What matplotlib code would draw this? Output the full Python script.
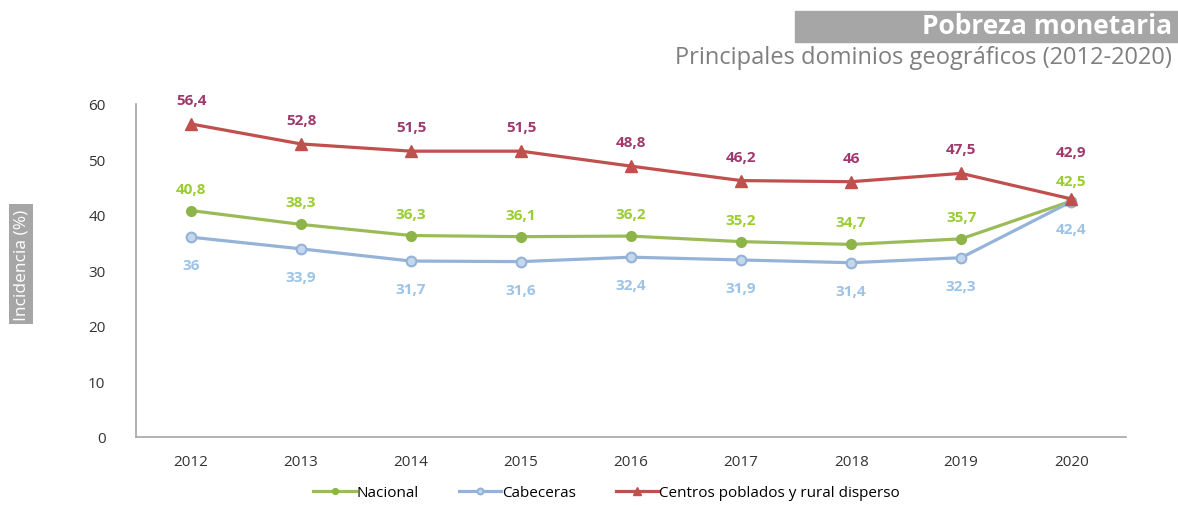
import matplotlib.pyplot as plt
from matplotlib.patches import Rectangle

plt.rcParams['font.family'] = ['Open Sans', 'DejaVu Sans']

years = ['2012', '2013', '2014', '2015', '2016', '2017', '2018', '2019', '2020']
nacional = [40.8, 38.3, 36.3, 36.1, 36.2, 35.2, 34.7, 35.7, 42.5]
cabeceras = [36.0, 33.9, 31.7, 31.6, 32.4, 31.9, 31.4, 32.3, 42.4]
centros = [56.4, 52.8, 51.5, 51.5, 48.8, 46.2, 46.0, 47.5, 42.9]


def fmt(v):
    s = f"{v:.1f}".replace('.', ',')
    return s[:-2] if s.endswith(',0') else s


fig = plt.figure(figsize=(11.78, 5.06), dpi=100)
ax = fig.add_axes([0.1155, 0.1344, 0.8405, 0.6581])
x = list(range(len(years)))

ax.plot(x, nacional, color='#9bbb59', lw=2.3, marker='o', ms=7,
        mfc='#8db449', mec='#8db449', label='Nacional', zorder=3)
ax.plot(x, cabeceras, color='#95b3d7', lw=2.3, marker='o', ms=7,
        mfc='#c5d7ec', mec='#95b3d7', mew=1.5, label='Cabeceras', zorder=3)
ax.plot(x, centros, color='#c0504d', lw=2.3, marker='^', ms=9,
        mfc='#c0504d', mec='#c0504d', label='Centros poblados y rural disperso', zorder=3)

# offsets in pixels from the point to the label centre
off_c = [24] * 8 + [47]
off_n = [22] * 8 + [20]
off_b = [28] * 8 + [27]
lbl = dict(ha='center', va='center', fontsize=11, fontweight='bold',
           textcoords='offset points')
for i in x:
    ax.annotate(fmt(centros[i]), (i, centros[i]), xytext=(0, off_c[i] * 0.72),
                color='#9e3a6e', **lbl)
    ax.annotate(fmt(nacional[i]), (i, nacional[i]), xytext=(0, off_n[i] * 0.72),
                color='#9acd32', **lbl)
    ax.annotate(fmt(cabeceras[i]), (i, cabeceras[i]), xytext=(0, -off_b[i] * 0.72),
                color='#9dc3e6', **lbl)

ax.set_xlim(-0.5, len(years) - 0.5)
ax.set_ylim(0, 60)
ax.set_yticks(range(0, 61, 10))
ax.set_xticks(x)
ax.set_xticklabels(years)
ax.tick_params(length=0, labelsize=11, colors='#333333', pad=12)
ax.tick_params(axis='y', pad=22)
for s in ['top', 'right']:
    ax.spines[s].set_visible(False)
for s in ['left', 'bottom']:
    ax.spines[s].set_color('#a6a6a6')
    ax.spines[s].set_linewidth(1.2)

fig.legend(loc='lower center', bbox_to_anchor=(0.515, -0.017), ncol=3, frameon=False,
           fontsize=11, handlelength=2.8, columnspacing=2.6, handletextpad=0.05,
           markerscale=0.6)

# title block
fig.patches.append(Rectangle((795 / 1178, 1 - 43 / 506), (1178 - 795) / 1178, 31 / 506,
                             transform=fig.transFigure, color='#a6a6a6', zorder=0))
fig.text(1172 / 1178, 1 - 27 / 506, 'Pobreza monetaria', ha='right', va='center',
         color='white', fontsize=19, fontweight='bold')
fig.text(1172 / 1178, 1 - 58 / 506, 'Principales dominios geográficos (2012-2020)',
         ha='right', va='center', color='#7f7f7f', fontsize=17)

fig.text(21 / 1178, 1 - 265 / 506, 'Incidencia (%)', rotation=90, ha='center', va='center',
         color='white', fontsize=12.5,
         bbox=dict(boxstyle='square,pad=0.25', fc='#a6a6a6', ec='none'))

fig.savefig('out.png', dpi=100)
